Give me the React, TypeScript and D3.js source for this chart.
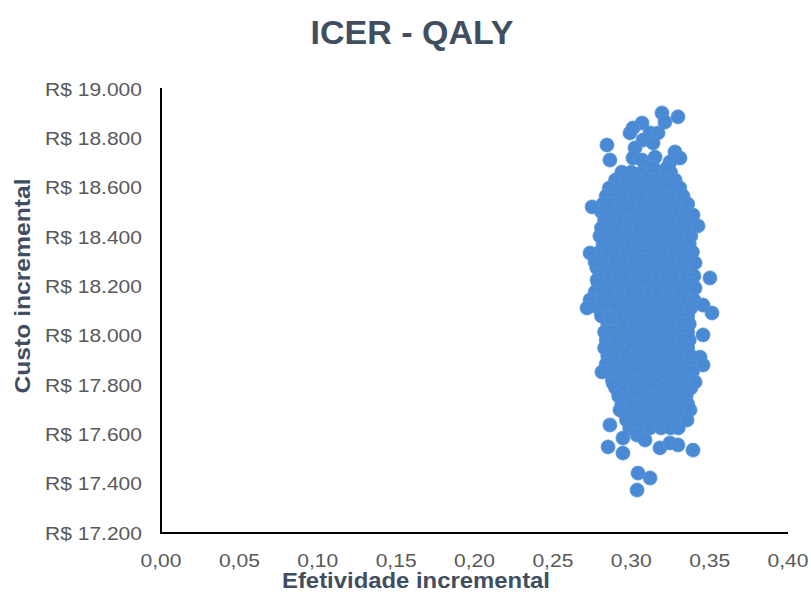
import React from "react";
import * as d3 from "d3";

// ---- Data ----
const chartTitle = "ICER - QALY";
const xAxisTitle = "Efetividade incremental";
const yAxisTitle = "Custo incremental";

const xTicks = [0, 0.05, 0.1, 0.15, 0.2, 0.25, 0.3, 0.35, 0.4];
const yTicks = [17200, 17400, 17600, 17800, 18000, 18200, 18400, 18600, 18800, 19000];

// Scattered simulations at the edge of the cloud
const outlierEffect = [0.3196, 0.3298, 0.3215, 0.3069, 0.3011, 0.2992, 0.3120, 0.3171, 0.3075, 0.3139, 0.2845, 0.2864, 0.3024, 0.3011, 0.3069, 0.3152, 0.3139, 0.3279, 0.3311, 0.3247, 0.3228, 0.2750, 0.3394, 0.3426, 0.2737, 0.2769, 0.3407, 0.3502, 0.2782, 0.2737, 0.2718, 0.3407, 0.3458, 0.3515, 0.3458, 0.2864, 0.3439, 0.2813, 0.3458, 0.2884, 0.3407, 0.2928, 0.3375, 0.2864, 0.3356, 0.2947, 0.3037, 0.3088, 0.2852, 0.2947, 0.3183, 0.3247, 0.3298, 0.3394, 0.3043, 0.3120, 0.3037];
const outlierCost = [18903, 18887, 18866, 18862, 18842, 18822, 18822, 18822, 18793, 18781, 18773, 18712, 18761, 18720, 18712, 18724, 18684, 18745, 18720, 18704, 18680, 18522, 18489, 18445, 18335, 18299, 18295, 18234, 18226, 18145, 18112, 18193, 18124, 18092, 18003, 18072, 17913, 17853, 17881, 17808, 17812, 17699, 17699, 17638, 17658, 17585, 17597, 17577, 17549, 17524, 17545, 17565, 17557, 17536, 17443, 17423, 17374];

// Dense core of the cloud: one cost level per row, with the effects read along it
const coreCost = [18663, 18631, 18599, 18566, 18534, 18502, 18469, 18437, 18404, 18372, 18339, 18307, 18275, 18242, 18210, 18177, 18145, 18112, 18080, 18047, 18015, 17982, 17950, 17918, 17885, 17853, 17820, 17788, 17755, 17723, 17690, 17658, 17626];
const coreEffect = [
  [0.294, 0.300, 0.307, 0.313, 0.319, 0.325],
  [0.290, 0.297, 0.303, 0.310, 0.316, 0.322, 0.328],
  [0.286, 0.292, 0.299, 0.305, 0.312, 0.318, 0.324, 0.331],
  [0.284, 0.289, 0.296, 0.302, 0.308, 0.314, 0.321, 0.327, 0.333],
  [0.282, 0.288, 0.294, 0.301, 0.307, 0.313, 0.319, 0.326, 0.332, 0.336],
  [0.281, 0.287, 0.292, 0.298, 0.305, 0.311, 0.317, 0.323, 0.330, 0.335],
  [0.283, 0.289, 0.295, 0.302, 0.308, 0.314, 0.320, 0.327, 0.333, 0.338],
  [0.281, 0.286, 0.293, 0.299, 0.305, 0.312, 0.318, 0.324, 0.331, 0.336],
  [0.280, 0.285, 0.291, 0.297, 0.304, 0.310, 0.316, 0.322, 0.328, 0.334, 0.338],
  [0.282, 0.288, 0.294, 0.300, 0.307, 0.313, 0.319, 0.325, 0.331, 0.337],
  [0.280, 0.285, 0.291, 0.297, 0.303, 0.310, 0.316, 0.322, 0.328, 0.334, 0.339],
  [0.279, 0.284, 0.290, 0.296, 0.302, 0.308, 0.315, 0.321, 0.327, 0.333, 0.338],
  [0.278, 0.283, 0.289, 0.295, 0.301, 0.307, 0.313, 0.319, 0.326, 0.332, 0.338],
  [0.280, 0.286, 0.292, 0.298, 0.304, 0.311, 0.317, 0.323, 0.329, 0.335, 0.340],
  [0.279, 0.285, 0.291, 0.297, 0.303, 0.309, 0.316, 0.322, 0.328, 0.334, 0.339],
  [0.277, 0.282, 0.288, 0.294, 0.300, 0.306, 0.312, 0.318, 0.325, 0.331, 0.337],
  [0.276, 0.281, 0.287, 0.293, 0.299, 0.305, 0.311, 0.317, 0.323, 0.330, 0.336, 0.340],
  [0.279, 0.284, 0.290, 0.296, 0.302, 0.308, 0.314, 0.320, 0.327, 0.333, 0.338],
  [0.281, 0.287, 0.293, 0.299, 0.305, 0.311, 0.317, 0.324, 0.330, 0.336],
  [0.285, 0.290, 0.296, 0.302, 0.308, 0.315, 0.321, 0.327, 0.333, 0.337],
  [0.283, 0.288, 0.294, 0.300, 0.306, 0.312, 0.318, 0.325, 0.331, 0.336],
  [0.284, 0.290, 0.296, 0.303, 0.309, 0.315, 0.321, 0.327, 0.333, 0.337],
  [0.283, 0.288, 0.294, 0.300, 0.306, 0.312, 0.319, 0.325, 0.331, 0.336],
  [0.285, 0.291, 0.297, 0.303, 0.309, 0.315, 0.322, 0.328, 0.334, 0.338],
  [0.284, 0.289, 0.295, 0.301, 0.307, 0.313, 0.319, 0.326, 0.332, 0.337],
  [0.286, 0.292, 0.298, 0.304, 0.310, 0.316, 0.323, 0.329, 0.335, 0.339],
  [0.288, 0.294, 0.300, 0.306, 0.312, 0.318, 0.325, 0.331, 0.337],
  [0.290, 0.296, 0.302, 0.308, 0.314, 0.321, 0.327, 0.333, 0.338],
  [0.292, 0.298, 0.304, 0.310, 0.316, 0.322, 0.329, 0.335],
  [0.294, 0.300, 0.306, 0.312, 0.318, 0.324, 0.330, 0.336],
  [0.295, 0.301, 0.307, 0.313, 0.320, 0.326, 0.332],
  [0.297, 0.303, 0.309, 0.316, 0.322, 0.328, 0.333],
  [0.299, 0.306, 0.312, 0.319, 0.325, 0.330],
];

// ---- Layout ----
const W = 811;
const H = 592;
const plotLeft = 161;
const plotRight = 788;
const plotTop = 89;
const plotBottom = 533;

const ptBR = d3.formatLocale({
  decimal: ",",
  thousands: ".",
  grouping: [3],
  currency: ["R$ ", ""],
});
const fmtX = ptBR.format(".2f");
const fmtY = ptBR.format("$,.0f");

const titleColor = "#414e60";
const tickColor = "#595959";
const dotFill = "#4a89d3";
const dotStroke = "#5494da";
const font = "'Liberation Sans', Arial, Helvetica, sans-serif";

export default function App() {
  const x = d3.scaleLinear().domain([0, 0.4]).range([plotLeft, plotRight]);
  const y = d3.scaleLinear().domain([17200, 19000]).range([plotBottom, plotTop]);

  const points: { e: number; c: number }[] = [];
  coreCost.forEach((c, i) => coreEffect[i].forEach((e) => points.push({ e, c })));
  outlierEffect.forEach((e, i) => points.push({ e, c: outlierCost[i] }));

  return (
    <svg
      width={W}
      height={H}
      viewBox={`0 0 ${W} ${H}`}
      style={{ position: "absolute", left: 0, top: 0, background: "#fff" }}
      fontFamily={font}
    >
      <rect width={W} height={H} fill="#fff" />
      <text
        x={412}
        y={44}
        textAnchor="middle"
        fontSize={34}
        fontWeight="bold"
        fill={titleColor}
      >
        {chartTitle}
      </text>

      {yTicks.map((t) => (
        <text
          key={t}
          x={142}
          y={y(t) + 6.6}
          textAnchor="end"
          fontSize={18.5}
          fill={tickColor}
          textLength={97}
          lengthAdjust="spacingAndGlyphs"
        >
          {fmtY(t)}
        </text>
      ))}

      {xTicks.map((t) => (
        <text
          key={t}
          x={x(t)}
          y={567}
          textAnchor="middle"
          fontSize={18.5}
          fill={tickColor}
          textLength={41}
          lengthAdjust="spacingAndGlyphs"
        >
          {fmtX(t)}
        </text>
      ))}

      <g>
        {points.map((p, i) => (
          <circle
            key={i}
            cx={x(p.e)}
            cy={y(p.c)}
            r={7}
            fill={dotFill}
            stroke={dotStroke}
            strokeWidth={0.8}
          />
        ))}
      </g>

      <line x1={plotLeft} x2={plotLeft} y1={plotTop - 1} y2={plotBottom + 1} stroke="#000" strokeWidth={2} />
      <line x1={plotLeft - 1} x2={plotRight} y1={plotBottom} y2={plotBottom} stroke="#000" strokeWidth={2} />

      <text
        x={416}
        y={588}
        textAnchor="middle"
        fontSize={22}
        fontWeight="bold"
        fill={titleColor}
        textLength={268}
        lengthAdjust="spacingAndGlyphs"
      >
        {xAxisTitle}
      </text>
      <text
        transform={`translate(30,286) rotate(-90)`}
        textAnchor="middle"
        fontSize={22}
        fontWeight="bold"
        fill={titleColor}
        textLength={215}
        lengthAdjust="spacingAndGlyphs"
      >
        {yAxisTitle}
      </text>
    </svg>
  );
}
